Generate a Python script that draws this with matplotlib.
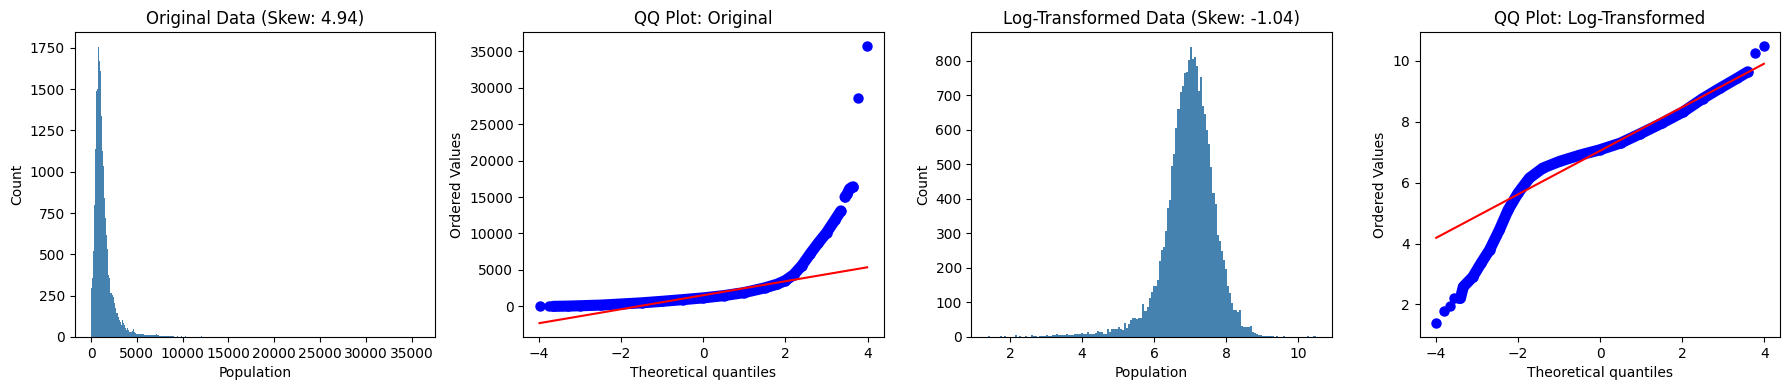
import numpy as np
import matplotlib
matplotlib.use("Agg")
import matplotlib.pyplot as plt

# --- values ---

# raw population histogram, one bar per pixel column (~108.7 people wide)
pop_bin_width = 108.7
pop_counts = ([295, 355, 521, 800, 1139, 1491, 1500, 1756, 1669, 1612,
               1335, 1123, 1032, 840, 719, 618, 533, 376, 355, 269,
               265, 255, 244, 204, 174, 143, 143, 123, 103, 93,
               73, 103, 83, 73, 52, 42, 52, 42, 32, 32,
               32, 36, 48, 32, 22, 18]
              + [16] * 5 + [18] * 2 + [12] * 8 + [10] * 4 + [18] + [10] * 2
              + [8] * 15 + [0, 0, 0, 5, 0, 0, 0, 5, 0, 0, 0, 5]
              + [0] * 15 + [5])
pop_outliers = [28566, 35682]

# log1p population histogram (159 bins)
log_min, log_max = 1.3863, 10.4827
log_counts = [3, 0, 0, 0, 0, 0, 3, 0, 3, 0,
              0, 0, 0, 6, 0, 3, 0, 0, 3, 0,
              0, 6, 3, 3, 0, 3, 3, 3, 6, 4,
              4, 6, 6, 9, 6, 6, 6, 6, 9, 6,
              6, 6, 9, 9, 9, 11, 9, 9, 14, 9,
              9, 9, 12, 17, 15, 14, 9, 9, 23, 15,
              23, 23, 23, 28, 23, 20, 40, 27, 37, 49,
              55, 55, 53, 55, 55, 95, 75, 88, 114, 131,
              147, 147, 165, 220, 252, 261, 306, 372, 398, 494,
              529, 606, 659, 709, 726, 764, 767, 801, 840, 805,
              810, 786, 712, 752, 668, 647, 598, 558, 492, 417,
              385, 294, 279, 250, 223, 198, 149, 126, 97, 78,
              78, 71, 78, 32, 30, 30, 28, 32, 15, 12,
              8, 6, 5, 3, 3, 2, 3, 2, 2, 1,
              2, 1, 1, 2, 1, 1, 1, 0, 0, 0,
              0, 0, 0, 0, 0, 2, 0, 0, 2]

# QQ plot of raw population: band of ordered values, isolated extremes
qq_raw_q = [-3.65, -3.3, -3.0, -2.5, -2.0, -1.5, -1.0, -0.5, 0.0, 0.5,
            1.0, 1.5, 1.8, 2.0, 2.2, 2.4, 2.6, 2.8, 3.0, 3.2, 3.35]
qq_raw_v = [8, 40, 90, 180, 330, 490, 700, 930, 1170, 1480,
            1900, 2550, 3050, 3550, 4350, 5600, 7200, 8700, 10100, 11800, 13100]
qq_raw_top_q = [3.45, 3.5, 3.56, 3.62, 3.65]
qq_raw_top_v = [15000, 15400, 16100, 16350, 16400]
qq_raw_ext_q = [-3.99, -3.77, 3.77, 3.99]
qq_raw_ext_v = [3, 5, 28566, 35682]
raw_fit = (959, 1535)  # slope, intercept

# QQ plot of log1p population
qq_log_q = [-3.4, -3.33, -3.1, -2.9, -2.69, -2.45, -2.24, -2.0, -1.72, -1.39,
            -0.98, -0.5, 0.0, 0.5, 0.97, 1.5, 2.02, 2.5, 2.92, 3.33, 3.6]
qq_log_v = [2.2, 2.58, 2.9, 3.35, 3.79, 4.45, 5.1, 5.65, 6.15, 6.48,
            6.70, 6.90, 7.08, 7.30, 7.60, 7.95, 8.32, 8.76, 9.10, 9.42, 9.64]
qq_log_ext_q = [-3.99, -3.79, -3.65, -3.55, -3.45]
qq_log_ext_v = [1.386, 1.79, 1.95, 2.2, 2.2]
qq_log_top_q = [3.77, 3.99]
qq_log_top_v = [10.26, 10.48]
log_fit = (0.716, 7.045)

skew_raw = 4.94
skew_log = -1.04
theo_ends = [-3.99, 3.99]

bar_face = (0.27, 0.51, 0.69)
band_lw = 8

fig, axes = plt.subplots(1, 4, figsize=(17.89, 3.9), dpi=100)
plt.subplots_adjust(left=0.0418, right=0.9951, bottom=0.136, top=0.917, wspace=0.244)

# 1. original histogram
ax = axes[0]
edges = np.arange(len(pop_counts)) * pop_bin_width
ax.bar(edges, pop_counts, width=pop_bin_width, align='edge',
       facecolor=bar_face, edgecolor='none')
ax.bar(pop_outliers, [1, 1], width=pop_bin_width, align='edge',
       facecolor=bar_face, edgecolor='none')
ax.set_title(f"Original Data (Skew: {skew_raw:.2f})")
ax.set_xlabel("Population")
ax.set_ylabel("Count")

# 2. QQ original
ax = axes[1]
ax.plot(qq_raw_q, qq_raw_v, color='blue', lw=band_lw, solid_capstyle='round',
        solid_joinstyle='round')
ax.plot(qq_raw_top_q, qq_raw_top_v, color='blue', lw=band_lw, solid_capstyle='round')
ax.plot(qq_raw_q + qq_raw_top_q + qq_raw_ext_q, qq_raw_v + qq_raw_top_v + qq_raw_ext_v,
        'o', color='blue', ms=6.5, linestyle='none')
fx = np.array(theo_ends)
ax.plot(fx, raw_fit[0] * fx + raw_fit[1], color='red')
ax.set_title("QQ Plot: Original")
ax.set_xlabel("Theoretical quantiles")
ax.set_ylabel("Ordered Values")

# 3. log histogram
ax = axes[2]
lw_bin = (log_max - log_min) / len(log_counts)
ledges = log_min + np.arange(len(log_counts)) * lw_bin
ax.bar(ledges, log_counts, width=lw_bin, align='edge',
       facecolor=bar_face, edgecolor='none')
ax.set_xlim(log_min - 0.05 * (log_max - log_min), log_max + 0.05 * (log_max - log_min))
ax.set_title(f"Log-Transformed Data (Skew: {skew_log:.2f})")
ax.set_xlabel("Population")
ax.set_ylabel("Count")

# 4. QQ log
ax = axes[3]
ax.plot(qq_log_q, qq_log_v, color='blue', lw=band_lw, solid_capstyle='round',
        solid_joinstyle='round')
ax.plot(qq_log_q + qq_log_ext_q + qq_log_top_q, qq_log_v + qq_log_ext_v + qq_log_top_v,
        'o', color='blue', ms=6.5, linestyle='none')
ax.plot(fx, log_fit[0] * fx + log_fit[1], color='red')
ax.set_title("QQ Plot: Log-Transformed")
ax.set_xlabel("Theoretical quantiles")
ax.set_ylabel("Ordered Values")

fig.savefig("out.png", dpi=100)
